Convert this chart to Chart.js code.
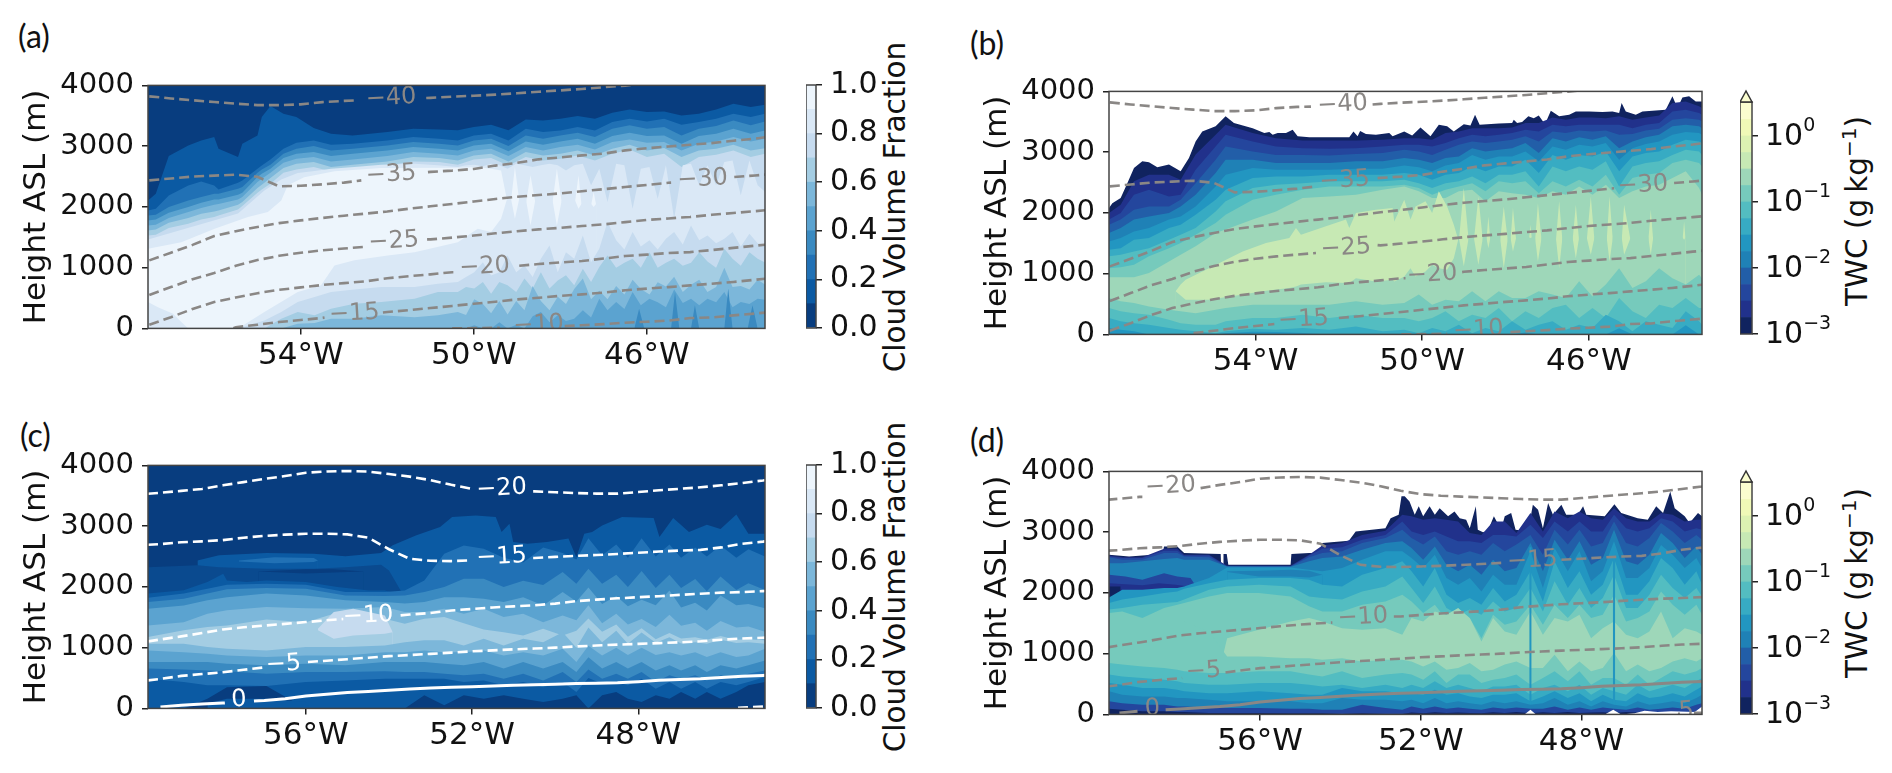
<!DOCTYPE html>
<html>
<head>
<title>Cloud fraction and TWC sections</title>
<script src="https://cdn.jsdelivr.net/npm/chart.js@4/dist/chart.umd.min.js"></script>
<style>
body { margin: 0; background: #fff; width: 1892px; height: 773px; overflow: hidden; position: relative; }
canvas { position: absolute; }
.tag { position: absolute; font: 32px Lato, sans-serif; color: #111; }
.cbtitle { position: absolute; font: 29.5px "DejaVu Sans", sans-serif; color: #111; white-space: nowrap; transform: translate(-50%, -50%) rotate(-90deg); }
.cbtitle sup { font-size: 0.68em; line-height: 0; }
</style>
</head>
<body>

<div class="tag" style="left:18px;top:16px">(a)</div>
<div class="tag" style="left:970px;top:23px">(b)</div>
<div class="tag" style="left:20px;top:415px">(c)</div>
<div class="tag" style="left:970px;top:420px">(d)</div>
<div class="cbtitle" style="left:895px;top:207px">Cloud Volume Fraction</div>
<div class="cbtitle" style="left:895px;top:587px">Cloud Volume Fraction</div>
<div class="cbtitle" style="left:1857px;top:211px">TWC (g&#8201;kg<sup>−1</sup>)</div>
<div class="cbtitle" style="left:1857px;top:583px">TWC (g&#8201;kg<sup>−1</sup>)</div>

<script>
// colour levels
const cvfLevels = [0, 0.1, 0.2, 0.3, 0.4, 0.5, 0.6, 0.7, 0.8, 0.9, 1];
const cvfTicks = [0, 0.2, 0.4, 0.6, 0.8, 1];
const twcLevels = [0.001, 0.00178, 0.00316, 0.00562, 0.01, 0.0178, 0.0316, 0.0562, 0.1, 0.178, 0.316, 0.562, 1, 1.78, 3.27];
const twcTicks = [0.001, 0.01, 0.1, 1];
const twcExponents = ['−3', '−2', '−1', '0'];
const BLUES = ['#083d7f', '#0b5aa3', '#2171b5', '#3a8ac1', '#5ba3d0', '#7cb7da', '#a4cde3', '#c6dbef', '#dae8f6', '#edf5fc', '#0a4a8f'];
const YLGNBU = ['#10235f', '#21318b', '#24469d', '#225ea8', '#1f81b6', '#2296c1', '#37abc3', '#53bdc1', '#76cabc', '#9ed7b9', '#c7e9b4', '#ddf2b2', '#f0f9b7', '#fafdcf', '#ffffff'];

const abTicks = [54, 50, 46];
const cdTicks = [56, 52, 48];
const heightTicks = [0, 1000, 2000, 3000, 4000];

// temperature contours, panels a and b
const tLonAB = [57.5,57,56.5,56,55.5,55,54.5,54,53.5,53,52.5,52,51.5,51,50.5,50,49.5,49,48.5,48,47.5,47,46.5,46,45.5,45,44.5,44,43.5,43.26];
const tm40 = [3820,3785,3755,3726,3700,3676,3675,3688,3725,3745,3762,3770,3780,3795,3815,3830,3848,3870,3895,3918,3942,3970,3997,4030,4060,4085,4110,4130,4150,4160];
const tm35 = [2436,2468,2500,2515,2530,2495,2338,2348,2372,2400,2442,2472,2505,2577,2597,2625,2680,2725,2783,2815,2848,2878,2930,2965,2995,3022,3050,3090,3125,3147];
const tm30 = [1120,1245,1375,1520,1600,1670,1733,1778,1818,1855,1890,1925,1970,2010,2048,2090,2130,2168,2195,2222,2258,2292,2327,2362,2398,2432,2462,2490,2518,2532];
const tm25 = [550,680,810,911,1030,1125,1195,1245,1285,1315,1345,1380,1420,1465,1495,1528,1565,1600,1630,1655,1685,1712,1750,1785,1810,1835,1870,1900,1930,1945];
const tm20 = [60,185,320,433,510,580,635,675,715,745,775,825,860,890,925,950,980,1030,1060,1085,1110,1150,1192,1215,1240,1256,1290,1325,1362,1378];
const tm15 = [-520,-400,-280,-140,20,60,105,138,172,205,240,269,300,335,370,405,440,478,505,535,560,590,628,655,680,708,735,765,800,818];
const tm10Lon = [50.5,50,49.5,49,48.5,48,47.5,47,46.5,46,45.5,45,44.5,44,43.5,43.26];
const tm10 = [0,5,10,15,20,35,52,70,94,110,128,170,180,215,245,260];

const aLabels = ['−40','−35','−30','−25','−20','−15','−10'];
const aLabelLon = [51.91,51.91,44.71,51.85,49.75,52.76,48.5];
const aLabelH = [3790,2530,2453,1432,1010,241,55];
const aGapFrom = [52.66,52.6,45.44,52.56,50.4,53.45,49.4];
const aGapFromH = [3755,2436,2400,1340,925,178,10];
const aGapTo = [51.1,51.06,43.98,51.08,48.95,52.1,47.9];
const aGapToH = [3792,2573,2491,1465,1030,262,38];

const bLabelLon = [51.91,51.86,44.7,51.83,49.76,52.85,48.65];
const bLabelH = [3780,2530,2453,1420,982,241,70];
const bGapFrom = [52.67,52.55,45.39,52.55,50.4,53.55,49.4];
const bGapFromH = [3750,2436,2405,1340,925,170,10];
const bGapTo = [51.19,51.07,43.95,51.07,49.04,52,47.88];
const bGapToH = [3785,2573,2491,1470,1025,269,38];

// temperature contours, panels c and d
const tLonCD = [59.8,59.5,59,58.5,58,57.5,57,56.5,56,55.5,55,54.5,54,53.5,53,52.5,52,51.5,51,50.5,50,49.5,49,48.5,48,47.5,47,46.5,46,45.5,45,44.95];
const cm20 = [3534,3550,3580,3612,3672,3725,3778,3825,3879,3900,3908,3898,3858,3815,3757,3680,3625,3600,3585,3572,3558,3545,3535,3535,3561,3590,3615,3640,3672,3710,3752,3757];
const cm15 = [2694,2705,2735,2750,2770,2810,2840,2860,2875,2875,2865,2810,2620,2462,2430,2425,2435,2445,2460,2475,2495,2512,2525,2542,2562,2582,2598,2610,2650,2710,2745,2750];
const cm10 = [1103,1135,1185,1240,1300,1335,1364,1392,1421,1450,1478,1500,1518,1545,1570,1612,1637,1662,1680,1698,1725,1765,1790,1812,1830,1847,1868,1888,1905,1915,1930,1932];
const cm5 = [461,485,535,565,595,635,680,722,762,785,810,835,860,878,898,918,940,955,972,985,1000,1020,1035,1050,1062,1075,1088,1105,1130,1150,1163,1165];
const c0Lon = tLonCD.slice(1);
const c0 = [22,50,72,88,110,130,160,203,232,260,280,297,318,335,347,358,370,380,390,396,408,415,422,440,462,475,488,510,528,543,545];
const cp5Lon = [45.6,45.5,45,44.95];
const cp5 = [10,15,30,32];

const cLabels = ['−20','−15','−10','−5','0',''];
const cLabelLon = [51.29,51.29,54.5,56.54,57.61,45.3];
const cLabelH = [3616,2490,1520,724,143,0];
const cGapFrom = [52.05,52.05,55.1,57.04,57.95,null];
const cGapFromH = [3620,2435,1472,672,90,null];
const cGapTo = [50.53,50.53,53.72,55.95,57.25,null];
const cGapToH = [3572,2475,1531,765,120,null];

const dLabels = ['−20','−15','−10','−5','0','5'];
const dLabelLon = [58.23,49.22,53.44,57.41,58.68,45.39];
const dLabelH = [3753,2530,1597,708,93,50];
const dGapFrom = [58.93,49.91,54.2,57.94,59.05,45.55];
const dGapFromH = [3580,2497,1512,600,50,8];
const dGapTo = [57.48,48.5,52.67,56.86,58.35,45.2];
const dGapToH = [3725,2545,1612,690,75,25];

// panel a, cloud fraction band edges (m)
const aLon = [57.53,57.35,57.05,56.6,56.3,56,55.9,55.45,55.35,55,54.9,54.7,54.4,54.1,53.7,53.3,52.8,52,51.4,50.8,50.37,50,49.6,49.2,48.8,48.4,48,47.6,47.2,46.8,46.4,46,45.6,45.2,44.8,44.4,44,43.6,43.26];
const a1 = [2107,2217,2837,3012,3095,3150,2958,2820,3040,3177,3479,3660,3534,3479,3298,3205,3177,3232,3287,3276,3260,3314,3353,3260,3440,3424,3451,3495,3451,3550,3605,3561,3572,3506,3534,3605,3698,3643,3682];
const a2 = [1942,1970,2189,2354,2420,2354,2288,2398,2436,2628,2683,2782,2958,3056,3095,3023,3040,3095,3150,3122,3095,3177,3204,3095,3287,3232,3259,3314,3259,3396,3451,3407,3451,3353,3396,3451,3534,3479,3534];
const a3 = [1860,1871,1997,2107,2162,2217,2217,2299,2326,2562,2617,2694,2875,2957,3001,2930,2957,3012,3067,3040,3012,3095,3122,3001,3177,3122,3177,3221,3150,3287,3342,3287,3314,3177,3287,3331,3424,3342,3407];
const a4 = [1778,1794,1904,1997,2069,2123,2123,2200,2233,2491,2546,2628,2804,2875,2903,2837,2875,2930,2985,2957,2930,3012,3040,2914,3078,3023,3078,3122,3040,3166,3221,3166,3177,3040,3166,3204,3287,3204,3259];
const a5 = [1695,1706,1816,1915,1981,2036,2047,2123,2162,2409,2464,2562,2727,2793,2820,2749,2782,2837,2903,2875,2848,2930,2957,2837,2985,2930,2985,3023,2946,3067,3111,3056,3067,2930,3040,3078,3150,3078,3122];
const a6 = [1613,1630,1739,1816,1887,1926,1942,2036,2080,2310,2365,2475,2639,2711,2738,2656,2694,2749,2820,2804,2765,2848,2875,2749,2903,2848,2875,2930,2848,2957,3023,2930,2968,2820,2930,2957,3023,2930,2968];
const a7 = [1531,1542,1652,1723,1794,1833,1860,1959,2014,2233,2288,2381,2562,2617,2656,2584,2628,2683,2749,2738,2694,2782,2804,2683,2820,2765,2793,2848,2765,2875,2946,2820,2875,2656,2820,2859,2930,2820,2875];
const aLonF = [57.53,55.45,54.84,54.45,54.07,53.68,53.3,52.76,52.14,51.37,50.83,50.37,50.18,49.99,49.79,49.6,49.41,49.22,49.02,48.83,48.64,48.45,48.25,48.06,47.87,47.68,47.48,47.29,47.1,46.91,46.71,46.52,46.33,46.14,45.94,45.75,45.56,45.37,45.17,44.98,44.79,44.6,44.4,44.21,44.02,43.83,43.63,43.44,43.26];
const a8 = [1465,1890,2270,2450,2560,2590,2630,2655,2695,2710,2685,2655,2685,2695,2670,2710,2685,2630,2710,2685,2655,2685,2710,2685,2600,2685,2710,2355,2630,2080,2710,2685,1970,2630,2655,2135,2685,1805,2685,2710,2355,2685,2355,2740,2765,2190,2765,2355,2245];
const a9Lon = [57.53,56.76,55.99,55.22,54.76,54.45,54.3,53.92,53.22,52.14,50.37,49.91,49.6,49.37,49.23,49.14,49.05,48.95,48.79,48.69,48.58,48.18,48.08,47.97,47.66,47.58,47.51,47.29,47.23,47.17];
const a9 = [1310,1420,1640,1835,1915,2105,2355,2490,2585,2640,2645,2655,2630,2600,2105,2105,2655,2105,2080,2520,2080,2080,2630,2080,2080,2520,2025,2025,2245,2025];
const a9LowLon = [57.53,57.3,56.95,56.76,56.6,55.45,54.84,54.07,53.53,53.22,52.76,51.99,51.37,50.37,49.91,49.6,49.37,49.23,49.14,49.05,48.95,48.79,48.69,48.58,48.18,48.08,47.97,47.66,47.58,47.51,47.29,47.23,47.17];
const a9Low = [435,350,240,105,0,0,270,600,710,1035,1120,1200,1255,1420,1640,1585,1805,2135,2135,1805,2135,2105,1695,2105,2105,1695,2105,2105,1970,2050,2050,2000,2050];
const a8Low = [0,0,130,270,435,515,600,640,680,680,735,765,845,925,1090,870,925,1200,925,1035,845,1145,1365,925,1255,1145,1530,1090,1310,1750,1450,1300,1585,1350,1450,1300,1475,1585,1380,1695,1450,1530,1400,1475,1585,1350,1560,1400,1350];
const a7Low = [0,0,0,160,270,215,325,405,435,490,600,600,680,655,765,570,765,710,600,820,655,925,655,790,875,710,980,765,1010,1200,1000,1080,1145,1000,1255,1000,1080,1145,1030,1080,1255,1100,1000,1310,1145,1030,1255,1145,1080];
const a6Low = [0,0,0,0,75,90,160,160,215,185,215,270,220,480,400,250,450,230,450,300,700,450,300,520,400,650,820,480,620,480,700,560,800,650,560,760,690,850,600,720,800,600,680,1000,680,700,640,800,720];
const a5Low = [0,0,0,0,0,0,0,0,0,0,0,0,0,50,0,0,100,0,60,0,200,270,100,215,120,160,300,180,490,300,435,320,600,380,490,430,350,640,420,490,380,490,430,600,350,435,400,490,470];
const a4LowLon = [46.29,46.18,46.06,45.44,45.35,45.25,44.98,44.89,44.79,44.21,44.12,44.02,43.67,43.56,43.44];
const a4Low = [0,325,0,0,600,0,0,380,0,0,655,0,0,380,0];

// panel b, TWC band edges (m)
const bTopLon = [57.52,57.44,57.24,57.08,56.92,56.72,56.56,56.36,56.08,55.8,55.6,55.44,55.28,54.96,54.72,54.52,54.07,53.79,53.67,53.59,53.47,53.27,53.11,52.99,52.71,51.75,51.65,51.55,51.49,51.35,51.11,50.79,50.71,50.43,50.24,50.04,49.8,49.6,49.4,49.24,49,48.84,48.73,48.62,48.16,47.84,47.8,47.72,47.6,47.45,47.32,47.2,47.05,46.91,46.71,46.47,46.31,45.99,45.67,45.43,45.27,45.21,45.11,44.87,44.71,44.15,43.99,43.87,43.75,43.59,43.43,43.28];
const bTop = [2080,2160,2245,2490,2740,2850,2835,2750,2795,2685,2905,3175,3340,3425,3590,3480,3395,3315,3330,3285,3315,3315,3370,3260,3245,3245,3340,3260,3350,3300,3285,3315,3260,3340,3275,3405,3260,3450,3425,3340,3460,3440,3615,3450,3470,3480,3535,3480,3495,3590,3560,3605,3460,3680,3590,3615,3670,3670,3660,3670,3645,3810,3670,3615,3670,3700,3920,3725,3900,3920,3835,3835];
const bLon = [57.52,57.24,56.92,56.56,56.08,55.8,55.44,54.96,54.72,54.07,53.51,52.87,52.23,51.59,50.95,50.43,50.08,49.76,49.44,49.12,48.8,48.48,48.16,47.84,47.52,47.2,46.87,46.55,46.23,45.91,45.59,45.27,44.95,44.63,44.31,43.99,43.67,43.35,43.28];
const b1 = [2000,2135,2520,2630,2630,2545,2960,3285,3450,3315,3230,3190,3190,3190,3205,3230,3230,3205,3315,3340,3395,3395,3395,3405,3480,3480,3570,3535,3570,3570,3560,3590,3535,3570,3605,3810,3835,3755,3725];
const b2 = [1890,2000,2300,2380,2270,2300,2710,3095,3285,3175,3095,3065,3055,3065,3095,3120,3120,3095,3150,3230,3285,3260,3285,3315,3370,3340,3450,3425,3450,3450,3450,3450,3395,3450,3480,3670,3700,3645,3615];
const b3 = [1805,1890,2050,2105,2105,2215,2490,2875,3095,3010,2955,2955,2945,2970,2985,3040,3010,2955,3040,3120,3175,3150,3175,3205,3260,3175,3340,3315,3355,3340,3355,3285,3300,3355,3385,3535,3560,3535,3505];
const b4 = [1670,1750,1890,1940,2000,2105,2300,2655,2875,2875,2820,2820,2820,2850,2850,2905,2875,2820,2905,2930,3065,3010,3040,3065,3150,2985,3230,3175,3245,3205,3260,3065,3175,3245,3285,3425,3450,3425,3395];
const b5 = [1530,1585,1695,1750,1890,1940,2105,2435,2630,2740,2710,2710,2710,2725,2725,2780,2750,2685,2780,2820,2955,2875,2930,2930,3010,2850,3095,3040,3120,3095,3150,2875,3065,3135,3175,3285,3330,3315,3285];
const b6 = [1395,1420,1560,1585,1750,1805,1970,2215,2380,2575,2600,2600,2630,2630,2630,2655,2630,2545,2630,2655,2765,2685,2765,2765,2875,2655,2955,2875,2955,2930,3010,2685,2930,2985,3010,3120,3205,3175,3150];
const b7 = [1285,1310,1365,1420,1560,1640,1750,2025,2190,2410,2465,2490,2520,2520,2520,2545,2490,2410,2490,2520,2600,2490,2630,2630,2685,2435,2765,2685,2765,2710,2850,2435,2765,2820,2850,2955,3040,3010,2955];
const b8 = [1090,1105,1145,1285,1420,1505,1640,1835,1970,2215,2300,2380,2435,2435,2435,2465,2410,2300,2380,2435,2490,2355,2520,2490,2520,2325,2520,2435,2545,2435,2630,2300,2575,2630,2655,2820,2875,2820,2765];
const b9 = [940,940,940,1010,1200,1310,1450,1670,1725,1890,2025,2245,2270,2300,2380,2435,2355,2245,2245,2355,2380,2190,2355,2325,2300,2245,2355,2300,2435,2300,2465,2245,2355,2435,2465,2575,2685,2410,2300];
const bYellowLon = [55.92,55.8,55.68,55.12,54.31,53.75,53.19,53.03,52.91,52.31,51.83,51.75,51.59,51.11,50.71,50.67,50.43,50.28,50.16,49.92,49.76,49.6,49.4,49.24,49.12,49,48.88,48.76,48.65,48.54,48.46,48.41,48.36,48.13,48.04,47.94,47.88,47.82,47.74,47.44,47.4,47.36,47.29,47.22,47.13,46.79,46.71,46.63,46.39,46.31,46.23,46.05,45.95,45.86,45.57,45.5,45.42,45.21,45.15,44.99,44.57,44.51,44.45,43.75,43.71,43.67];
const bYellow = [710,820,900,1090,1365,1505,1585,1750,1640,1780,1890,1750,2000,2050,2080,1860,2215,1890,2105,2190,2000,2355,2105,1805,1530,2410,1530,1530,2270,1530,1530,1940,1530,1530,2105,1530,1530,2080,1530,1530,1805,1530,1530,2160,1530,1530,2190,1530,1530,2135,1530,1530,2270,1530,1530,2270,1530,1530,2135,1530,1530,2050,1530,1530,1860,1530];
const bYellowLow = [710,640,570,570,655,720,765,790,820,860,845,845,925,870,900,870,955,1090,955,1035,1145,1090,1065,1255,1600,1120,1600,1600,1145,1600,1600,1420,1600,1600,1090,1600,1600,1365,1600,1600,1585,1600,1600,1200,1600,1600,1090,1600,1600,1255,1600,1600,1310,1600,1600,1200,1600,1600,1310,1600,1600,1310,1600,1600,1560,1600];
const b8Low = [600,545,515,460,405,380,350,405,435,490,490,490,490,545,490,515,655,490,570,545,710,545,710,600,600,710,655,600,875,625,820,1090,765,875,1090,925,820,980,925];
const b7Low = [435,380,350,325,240,185,160,160,215,270,270,325,270,325,270,270,215,270,380,215,325,270,435,215,380,270,435,490,270,435,270,600,380,270,490,435,600,435,435];
const b6Low = [270,215,185,160,105,75,50,20,50,95,75,105,75,130,50,75,20,105,50,160,20,105,50,215,75,160,215,75,160,105,325,215,50,215,160,105,380,215,160];
const b5Low = [105,75,50,0,0,0,0,0,20,45,40,25,0,0,0,0,0,0,0,0,0,0,0,0,30,0,0,0,0,0,0,100,0,0,0,0,150,0,0];

// panel c, cloud fraction band edges (m)
const cTopLon = [58.61,58.09,56.95,55.81,55.05,54.19,53.91,53.34,52.77,52.48,51.91,51.43,51.29,51.1,51.01,50.67,50.2,49.68,49.49,49.3,49.11,48.87,48.39,47.63,47.49,47.16,46.78,46.35,46.02,45.64,45.35,44.95];
const cTop = [2435,2520,2560,2545,2505,2560,2685,2850,2985,3150,3175,3150,2905,3040,2740,2710,2740,2795,2490,2875,2905,3010,3150,3135,2820,3135,2905,3025,2955,3190,2875,2875];
const cLensLon = [57.61,56.76,55.81,55.71];
const cLensTop = [2435,2490,2475,2435];
const cLensLow = [2420,2390,2410,2435];
const cGapLon = [59.8,58.61,58.09,56.95,55.81,55.05,54.19,54,53.86,53.72,53.62];
const cGap = [2325,2355,2325,2300,2300,2325,2365,2270,2105,1940,1860];
const cStripLon = [57.14,56,55.33,54.62];
const cStripTop = [2255,2290,2290,2255];
const cStripLow = [2255,2220,2235,2255];
const cShelfLon = [59.8,58.94,58.37,57.99,57.9,57.42,56.95,56,55.24,54.48,54.1,53.62];
const cShelf = [1890,1945,2080,2215,2105,2080,2105,2080,2000,1940,1940,1860];
const cLon = [59.8,58.94,58.37,57.9,56.95,56,55.05,54.1,53.62,53.15,52.67,52.2,51.72,51.24,50.77,50.29,49.82,49.49,49.2,48.87,48.53,48.25,47.92,47.58,47.25,46.97,46.63,46.35,46.02,45.64,45.35,44.95];
const c2 = [1820,1890,1970,2035,2050,2035,1915,1915,1940,2105,2545,2680,2630,2480,2400,2650,2560,2450,2800,2520,2700,2480,2800,2500,2700,2480,2650,2500,2680,2480,2620,2500];
const c3 = [1750,1805,1890,1960,1980,1970,1860,1850,1860,1915,2000,2135,2135,2000,2100,2030,2245,2050,2300,2050,2200,2000,2260,1980,2200,1980,2130,1930,2170,1950,2060,1950];
const c4 = [1640,1695,1780,1830,1890,1860,1780,1750,1725,1750,1830,1830,1805,1750,1830,1695,1915,1760,1990,1720,1850,1680,1790,1700,1940,1660,1740,1610,1860,1700,1720,1650];
const c5 = [1365,1420,1560,1615,1670,1650,1640,1670,1585,1585,1640,1560,1640,1505,1560,1420,1530,1450,1700,1400,1560,1380,1470,1340,1540,1360,1410,1280,1440,1330,1350,1260];
const c6 = [1175,1285,1340,1365,1465,1420,1615,1475,1395,1475,1505,1400,1300,1255,1200,1310,1200,1280,1480,1260,1380,1180,1320,1140,1240,1150,1170,1130,1190,1130,1140,1120];
const cPeakLon = [55.71,55.33,54.86,54.1,53.91];
const cPeakTop = [1310,1585,1640,1530,1255];
const cPeakLow = [1285,1145,1200,1230,1255];
const c5Low = [1065,1065,1010,980,955,1010,1010,1035,1090,1120,1120,1035,1145,1035,1145,1090,1255,1000,1330,1090,1280,1065,1250,1080,1170,1070,1090,1065,1130,1075,1090,1065];
const c4Low = [955,925,900,870,845,870,870,925,925,955,925,925,955,870,925,870,980,765,1030,870,1000,880,1000,880,925,870,925,845,925,845,870,980];
const c3Low = [765,765,765,735,710,735,710,765,765,765,735,710,765,655,765,655,765,600,840,655,765,655,765,625,710,625,710,600,710,655,710,790];
const c2Low = [655,640,625,610,570,600,600,610,600,600,570,545,570,490,570,460,600,435,640,490,570,490,600,435,545,490,545,460,545,490,570,625];
const c1Low = [490,435,380,380,370,435,460,490,490,490,490,435,460,380,435,350,435,270,500,405,435,380,490,325,435,325,435,325,435,380,435,515];
const c0Low = [0,0,160,350,370,0,0,0,0,215,50,215,160,215,160,105,160,215,0,215,270,160,105,215,160,270,160,270,160,270,380,435];
const cBaseLon = [58.37,57.9,56.95,56,55.9];
const cBase = [75,160,160,105,0];

// panel d, TWC band edges (m)
const dTopLon = [59.76,59.26,58.43,58.39,58.06,57.89,56.98,56.97,56.92,56.91,56.83,56.79,55.24,55.22,54.78,54.52,54.45,53.79,53.62,52.88,52.75,52.55,52.48,52.4,52.28,52.15,52.05,51.94,51.78,51.65,51.53,51.32,51.16,51.03,50.87,50.78,50.63,50.58,50.45,50.33,50.18,50,49.91,49.75,49.64,49.33,49.21,49.08,48.96,48.83,48.71,48.5,48.38,48.09,47.96,47.88,47.42,47.18,47.01,46.6,46.35,46.14,45.97,45.79,45.68,45.43,45.31,45.1,45];
const dTop = [2630,2600,2640,2765,2765,2655,2640,2465,2465,2640,2640,2465,2465,2640,2655,2655,2820,2860,3010,3065,3230,3285,3590,3590,3505,3285,3425,3260,3425,3285,3395,3260,3340,3230,3205,3065,3425,3040,3000,3025,3260,3040,3260,3315,3040,3010,3450,3370,3065,3480,3285,3450,3285,3285,3425,3285,3260,3460,3315,3230,3205,3425,3315,3670,3395,3260,3150,3315,3260];
const dLon = [59.76,59.43,58.93,58.39,58.06,57.89,57.27,56.82,56.03,55.24,54.78,54.45,53.96,53.46,52.88,52.46,52.23,51.94,51.65,51.36,51.07,50.78,50.49,50.2,49.91,49.62,49.27,48.96,48.67,48.34,48.05,47.76,47.47,47.19,46.89,46.6,46.31,46.02,45.73,45.43,45.14,45];
const d1 = [2615,2585,2585,2725,2725,2630,2630,2445,2445,2445,2630,2780,2820,2955,3025,3285,3260,3205,3230,3205,3175,2985,2955,3175,3175,2985,3315,3010,3340,3230,3340,3230,3205,3395,3230,3175,3175,3315,3285,3175,3205,3205];
const d2 = [2600,2575,2575,2695,2695,2615,2615,2440,2440,2440,2615,2725,2750,2875,2955,3175,3010,2955,3010,2930,2850,2850,2820,2955,2955,2930,3120,2905,3175,3010,3175,3010,3010,3285,3065,3010,3065,3230,3175,3010,3065,3040];
const d3 = [2585,2545,2545,2655,2655,2600,2585,2435,2435,2435,2585,2655,2685,2820,2905,3040,2905,2795,2930,2685,2630,2685,2630,2820,2685,2795,2955,2630,3040,2795,3040,2765,2820,3175,2820,2765,2905,3150,3010,2820,2955,2875];
const d4 = [2490,2490,2520,2560,2575,2545,2545,2435,2430,2430,2520,2575,2600,2710,2820,2850,2740,2545,2765,2465,2355,2465,2300,2545,2355,2410,2820,2355,2875,2545,2850,2465,2575,3040,2520,2465,2630,2985,2820,2575,2765,2630];
const dDarkLon = [59.76,59.35,58.93,58.39,58.06,57.73,57.59];
const dDark = [2300,2270,2215,2325,2270,2245,2105];
const dDeepLon = [59.76,58.93,58.52,58.1,57.59];
const dDeep = [2160,2125,2160,2135,2090];
const dBoxLon = [59.76,59.47];
const dBox = [2105,2105];
const d5 = [1925,2050,2050,2080,2080,2105,2245,2420,2420,2420,2380,2355,2410,2545,2685,2685,2575,2410,2630,2245,2135,2245,2025,2300,2135,2135,2685,2080,2740,2355,2685,2190,2355,2850,2245,2245,2410,2790,2630,2410,2575,2410];
const dBandLon = [56.82,56.03,55.24,54.78,54.45];
const dBandTop = [2355,2365,2380,2365,2300];
const dBandLow = [2345,2270,2270,2255,2300];
const d6 = [1835,1890,1940,2000,2025,2070,2160,2215,2245,2245,2215,2135,2105,2300,2410,2520,2355,2105,2410,1970,1835,1915,1805,2080,1860,1970,2355,1860,2520,2080,2355,1970,2135,2575,1970,1970,2190,2575,2410,2135,2355,2135];
const d7 = [1725,1750,1805,1835,1850,1890,2050,2105,2135,2105,1940,1915,1890,2025,2105,2270,2080,1835,2105,1750,1640,1725,1640,1860,1695,1750,2080,1695,2190,1805,2080,1750,1915,2300,1750,1750,1970,2300,2080,1915,2080,1940];
const d8 = [1670,1695,1585,1750,1805,1835,1940,2000,2000,1940,1780,1695,1695,1805,1860,1970,1860,1670,1805,1560,1505,1585,1255,1640,1475,1530,1805,1475,1805,1585,1805,1585,1640,1970,1530,1585,1695,2025,1805,1640,1805,1640];
const d9 = [0,0,0,0,0,0,0,1255,1395,1530,1585,1530,1420,1395,1420,1310,1585,1530,1695,1640,1750,1585,1200,1585,1365,1310,1695,1310,1585,1530,1640,1255,1420,1530,1310,1255,1365,1695,1255,1420,1365,1310];
const dColLon = [49.3,49.24];
const dCol = [2750,2750];
const dCol2Lon = [47.22,47.16];
const dCol2 = [2650,2650];
const d8Low = [1530,1530,1530,1530,1530,1530,1365,955,955,925,925,900,925,870,900,900,870,790,870,735,765,845,710,735,820,870,765,765,980,710,870,710,765,1010,710,820,710,765,870,925,870,925];
const d7Low = [845,820,790,765,735,710,680,680,710,710,655,625,710,600,655,680,655,570,710,515,655,655,515,570,600,655,490,600,710,545,710,490,600,600,490,655,490,600,710,655,710,765];
const d6Low = [655,625,600,570,545,515,490,490,515,515,490,460,490,435,490,435,490,435,545,435,490,435,380,460,460,490,325,435,490,380,490,325,435,380,325,490,380,435,490,435,545,600];
const d5Low = [515,490,435,435,405,380,350,350,380,350,325,325,435,380,380,350,350,325,405,325,350,295,270,325,325,350,215,295,380,270,350,215,325,240,215,350,270,295,350,295,405,460];
const d4Low = [380,325,295,295,270,270,240,215,215,215,185,185,270,240,240,215,240,185,270,185,215,185,160,215,185,215,160,185,270,160,215,130,215,160,130,215,160,185,215,185,270,325];
const d2Low = [215,185,160,160,130,130,115,105,105,95,95,75,75,160,105,75,130,95,130,95,115,95,75,115,95,115,95,95,130,75,115,75,115,95,75,115,75,95,115,95,160,185];
const d0Low = [95,75,50,50,40,40,25,25,25,20,20,20,5,20,5,5,30,20,35,25,30,25,20,35,25,40,20,35,25,40,25,30,35,25,40,30,25,40,30,25,45,50];
const dGroundLon = [49.42,49.27,49.13,47.42,47.21,47.01,46.68,46.43,46.1,45.77,45.18,45];
const dGround = [0,75,0,0,75,0,20,60,40,50,40,130];

// [longitudes, top of band, colour index], painted from the top of the column down
const aBands = [[aLon,a1,1],[aLon,a2,2],[aLon,a3,3],[aLon,a4,4],[aLon,a5,5],[aLon,a6,6],[aLon,a7,7],[aLonF,a8,8],[a9Lon,a9,9],[a9LowLon,a9Low,8],[aLonF,a8Low,7],[aLonF,a7Low,6],[aLonF,a6Low,5],[aLonF,a5Low,4],[a4LowLon,a4Low,3]];
const bBands = [[bTopLon,bTop,0],[bLon,b1,1],[bLon,b2,2],[bLon,b3,3],[bLon,b4,4],[bLon,b5,5],[bLon,b6,6],[bLon,b7,7],[bLon,b8,8],[bLon,b9,9],[bYellowLon,bYellow,10],[bYellowLon,bYellowLow,9],[bLon,b8Low,8],[bLon,b7Low,7],[bLon,b6Low,6],[bLon,b5Low,5]];
const cBands = [[cTopLon,cTop,1],[cLensLon,cLensTop,2],[cLensLon,cLensLow,1],[cGapLon,cGap,10],[cStripLon,cStripTop,0],[cStripLon,cStripLow,10],[cShelfLon,cShelf,1],[cLon,c2,2],[cLon,c3,3],[cLon,c4,4],[cLon,c5,5],[cLon,c6,6],[cPeakLon,cPeakTop,7],[cPeakLon,cPeakLow,6],[cLon,c5Low,5],[cLon,c4Low,4],[cLon,c3Low,3],[cLon,c2Low,2],[cLon,c1Low,1],[cLon,c0Low,0],[cBaseLon,cBase,1]];
const dBands = [[dTopLon,dTop,0],[dLon,d1,1],[dLon,d2,2],[dLon,d3,3],[dLon,d4,4],[dDarkLon,dDark,2],[dDeepLon,dDeep,1],[dBoxLon,dBox,0],[dLon,d5,5],[dBandLon,dBandTop,4],[dBandLon,dBandLow,5],[dLon,d6,6],[dLon,d7,7],[dLon,d8,8],[dLon,d9,9],[dLon,d8Low,8],[dLon,d7Low,7],[dLon,d6Low,6],[dLon,d5Low,5],[dColLon,dCol,5],[dCol2Lon,dCol2,5],[dLon,d4Low,4],[dLon,d2Low,2],[dLon,d0Low,0],[dGroundLon,dGround,14]];

const abContours = [[tLonAB,tm40],[tLonAB,tm35],[tLonAB,tm30],[tLonAB,tm25],[tLonAB,tm20],[tLonAB,tm15],[tm10Lon,tm10]];
const cdContours = [[tLonCD,cm20],[tLonCD,cm15],[tLonCD,cm10],[tLonCD,cm5],[c0Lon,c0],[cp5Lon,cp5]];
const FONT = '"DejaVu Sans", sans-serif';
const INK = '#222';

function makeCanvas(left, top, width, height) {
    const c = document.createElement('canvas');
    c.width = width;
    c.height = height;
    c.style.left = left + 'px';
    c.style.top = top + 'px';
    document.body.appendChild(c);
    return c;
}

// grow the canvas until the plot area has the wanted size, then move it into place
function placeArea(chart, canvas, left, top, width, height) {
    const a = chart.chartArea;
    chart.resize(canvas.width + width - a.width, canvas.height + height - a.height);
    const b = chart.chartArea;
    canvas.style.left = (left - b.left) + 'px';
    canvas.style.top = (top - b.top) + 'px';
}

// splits a contour around its inline label
function cutContour(lon, h, from, fromH, to, toH) {
    const pts = [];
    if (from === null) {
        lon.forEach((x, i) => pts.push({x: x, y: h[i]}));
        return pts;
    }
    lon.forEach((x, i) => { if (x > from) pts.push({x: x, y: h[i]}); });
    pts.push({x: from, y: fromH});
    pts.push({x: (from + to) / 2, y: null});
    pts.push({x: to, y: toH});
    lon.forEach((x, i) => { if (x < to) pts.push({x: x, y: h[i]}); });
    return pts;
}

const frame = {
    id: 'frame',
    beforeDatasetsDraw(chart, args, opts) {
        const a = chart.chartArea;
        chart.ctx.fillStyle = opts.background;
        chart.ctx.fillRect(a.left, a.top, a.width, a.height);
    },
    afterDraw(chart) {
        const a = chart.chartArea;
        const ctx = chart.ctx;
        ctx.strokeStyle = '#444';
        ctx.lineWidth = 1.5;
        ctx.strokeRect(a.left, a.top, a.width, a.height);
    }
};

const inlineLabels = {
    id: 'inlineLabels',
    afterDatasetsDraw(chart, args, opts) {
        const a = chart.chartArea;
        const ctx = chart.ctx;
        ctx.save();
        ctx.beginPath();
        ctx.rect(a.left, a.top, a.width, a.height);
        ctx.clip();
        ctx.font = '24px ' + FONT;
        ctx.fillStyle = opts.color;
        ctx.textAlign = 'center';
        ctx.textBaseline = 'middle';
        opts.text.forEach((t, i) => {
            ctx.save();
            ctx.translate(chart.scales.x.getPixelForValue(opts.lon[i]), chart.scales.y.getPixelForValue(opts.h[i]));
            ctx.rotate(-0.06);
            ctx.fillText(t, 0, 0);
            ctx.restore();
        });
        ctx.restore();
    }
};

function drawPanel(p) {
    const canvas = makeCanvas(p.left - 130, p.top - 20, p.width + 150, p.height + 80);
    const datasets = p.bands.map((b, i) => ({
        data: b[0].map((x, j) => ({x: x, y: b[1][j]})),
        backgroundColor: p.colors[b[2]],
        borderWidth: 0,
        pointRadius: 0,
        fill: 'origin',
        tension: 0,
        order: 1000 - i
    }));
    p.contours.forEach((c, i) => {
        datasets.push({
            data: cutContour(c[0], c[1], p.gapFrom[i], p.gapFromH[i], p.gapTo[i], p.gapToH[i]),
            borderColor: p.lineColor,
            borderWidth: p.solid.includes(i) ? 3 : 2.6,
            borderDash: p.solid.includes(i) ? [] : [10, 5],
            pointRadius: 0,
            fill: false,
            tension: 0,
            order: 0
        });
    });
    const chart = new Chart(canvas, {
        type: 'line',
        data: { datasets: datasets },
        plugins: [frame, inlineLabels],
        options: {
            responsive: false,
            maintainAspectRatio: false,
            animation: false,
            layout: { autoPadding: false, padding: { top: 20, right: 20 } },
            plugins: {
                legend: { display: false },
                tooltip: { enabled: false },
                frame: { background: p.background },
                inlineLabels: { text: p.labels, lon: p.labelLon, h: p.labelH, color: p.labelColor }
            },
            scales: {
                x: {
                    type: 'linear',
                    reverse: true,
                    min: p.lonMax,
                    max: p.lonMin,
                    border: { display: false },
                    grid: { drawOnChartArea: false, drawTicks: true, tickLength: 6, color: INK, lineWidth: 1.5 },
                    afterBuildTicks: s => { s.ticks = p.ticks.map(v => ({value: v})); },
                    afterFit: s => { s.height = 60; },
                    ticks: {
                        autoSkip: false,
                        maxRotation: 0,
                        padding: 3,
                        color: '#111',
                        font: { family: FONT, size: 31 },
                        callback: v => v + '°W'
                    }
                },
                y: {
                    min: 0,
                    max: 4000,
                    border: { display: false },
                    grid: { drawOnChartArea: false, drawTicks: true, tickLength: 6, color: INK, lineWidth: 1.5 },
                    afterBuildTicks: s => { s.ticks = heightTicks.map(v => ({value: v})); },
                    afterFit: s => { s.width = 130; },
                    title: {
                        display: true,
                        text: 'Height ASL (m)',
                        color: '#111',
                        padding: 0,
                        font: { family: FONT, size: 31 }
                    },
                    ticks: {
                        padding: 8,
                        color: '#111',
                        font: { family: FONT, size: 29 },
                        callback: v => String(v)
                    }
                }
            }
        }
    });
    placeArea(chart, canvas, p.left, p.top, p.width, p.height);
}

// arrow of the extended colour bar and the 10^n tick labels
const barExtras = {
    id: 'barExtras',
    afterDraw(chart, args, opts) {
        const a = chart.chartArea;
        const ctx = chart.ctx;
        if (opts.height) {
            ctx.beginPath();
            ctx.moveTo(a.left, a.top);
            ctx.lineTo((a.left + a.right) / 2, a.top - opts.height);
            ctx.lineTo(a.right, a.top);
            ctx.closePath();
            ctx.fillStyle = opts.color;
            ctx.fill();
            ctx.strokeStyle = '#333';
            ctx.lineWidth = 1.5;
            ctx.stroke();
        }
        if (opts.exponents) {
            ctx.fillStyle = '#111';
            ctx.textBaseline = 'middle';
            ctx.textAlign = 'left';
            opts.exponents.forEach((e, i) => {
                const y = chart.scales.y.getPixelForValue(opts.ticks[i]);
                ctx.font = '30px ' + FONT;
                ctx.fillText('10', a.right + 13, y + 1);
                const w = ctx.measureText('10').width;
                ctx.font = '19px ' + FONT;
                ctx.fillText(e, a.right + 13 + w, y - 10);
            });
        }
    }
};

function drawColorbar(p) {
    const canvas = makeCanvas(p.left, p.top - 20, p.width + 100, p.height + 40 + p.arrow);
    const datasets = p.levels.slice(1).map((hi, i) => ({
        data: [[p.levels[i], hi]],
        backgroundColor: p.colors[i],
        borderWidth: 0,
        barPercentage: 1,
        categoryPercentage: 1
    }));
    const chart = new Chart(canvas, {
        type: 'bar',
        data: { labels: [''], datasets: datasets },
        plugins: [frame, barExtras],
        options: {
            responsive: false,
            maintainAspectRatio: false,
            animation: false,
            layout: { autoPadding: false, padding: { top: 20 + p.arrow, bottom: 20 } },
            plugins: {
                legend: { display: false },
                tooltip: { enabled: false },
                frame: { background: '#fff' },
                barExtras: { height: p.arrow, color: p.colors[13], exponents: p.exponents, ticks: p.ticks }
            },
            scales: {
                x: { display: false, stacked: true },
                y: {
                    type: p.log ? 'logarithmic' : 'linear',
                    position: 'right',
                    stacked: false,
                    min: p.levels[0],
                    max: p.levels[p.levels.length - 1],
                    border: { display: false },
                    grid: { drawOnChartArea: false, drawTicks: true, tickLength: 6, color: INK, lineWidth: 1.5 },
                    afterBuildTicks: s => { s.ticks = p.ticks.map(v => ({value: v})); },
                    afterFit: s => { s.width = 100; },
                    ticks: {
                        padding: 8,
                        color: '#111',
                        font: { family: FONT, size: 30 },
                        callback: v => p.exponents ? '' : Number(v).toFixed(1)
                    }
                }
            }
        }
    });
    placeArea(chart, canvas, p.left, p.top + p.arrow, p.width, p.height);
}

drawPanel({ left: 148, top: 85, width: 617, height: 243, lonMax: 57.53, lonMin: 43.27, ticks: abTicks,
    bands: aBands, colors: BLUES, background: BLUES[0], contours: abContours, solid: [], lineColor: '#8a8785',
    labels: aLabels, labelLon: aLabelLon, labelH: aLabelH, labelColor: '#8a8785',
    gapFrom: aGapFrom, gapFromH: aGapFromH, gapTo: aGapTo, gapToH: aGapToH });
drawPanel({ left: 1109, top: 91, width: 593, height: 243, lonMax: 57.52, lonMin: 43.28, ticks: abTicks,
    bands: bBands, colors: YLGNBU, background: '#fff', contours: abContours, solid: [], lineColor: '#8a8785',
    labels: aLabels, labelLon: bLabelLon, labelH: bLabelH, labelColor: '#8a8785',
    gapFrom: bGapFrom, gapFromH: bGapFromH, gapTo: bGapTo, gapToH: bGapToH });
drawPanel({ left: 148, top: 465, width: 617, height: 243, lonMax: 59.8, lonMin: 44.95, ticks: cdTicks,
    bands: cBands, colors: BLUES, background: BLUES[0], contours: cdContours, solid: [4], lineColor: '#fff',
    labels: cLabels, labelLon: cLabelLon, labelH: cLabelH, labelColor: '#fff',
    gapFrom: cGapFrom, gapFromH: cGapFromH, gapTo: cGapTo, gapToH: cGapToH });
drawPanel({ left: 1109, top: 471, width: 593, height: 243, lonMax: 59.76, lonMin: 45, ticks: cdTicks,
    bands: dBands, colors: YLGNBU, background: '#fff', contours: cdContours, solid: [4], lineColor: '#8a8785',
    labels: dLabels, labelLon: dLabelLon, labelH: dLabelH, labelColor: '#8a8785',
    gapFrom: dGapFrom, gapFromH: dGapFromH, gapTo: dGapTo, gapToH: dGapToH });

drawColorbar({ left: 806, top: 85, width: 10, height: 243, arrow: 0, levels: cvfLevels, colors: BLUES, ticks: cvfTicks, log: false });
drawColorbar({ left: 806, top: 465, width: 10, height: 243, arrow: 0, levels: cvfLevels, colors: BLUES, ticks: cvfTicks, log: false });
drawColorbar({ left: 1740, top: 91, width: 12, height: 232, arrow: 11, levels: twcLevels, colors: YLGNBU, ticks: twcTicks, exponents: twcExponents, log: true });
drawColorbar({ left: 1740, top: 471, width: 12, height: 232, arrow: 11, levels: twcLevels, colors: YLGNBU, ticks: twcTicks, exponents: twcExponents, log: true });
</script>

</body>
</html>
